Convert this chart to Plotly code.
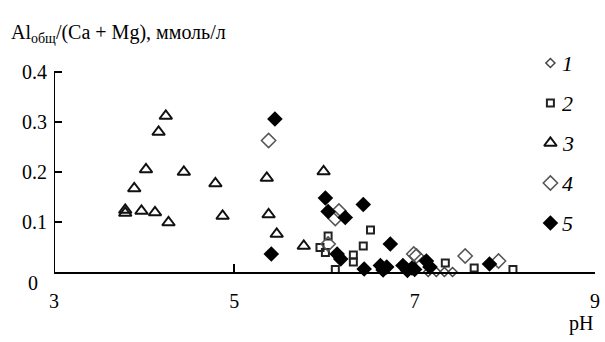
import plotly.graph_objects as go

# Series data (pH, Al/(Ca+Mg))
s1_ph = [7.15, 7.24, 7.33, 7.42]
s1_y = [0.0, 0.0, 0.0, 0.0]

s2_ph = [5.95, 6.01, 6.04, 6.12, 6.32, 6.32, 6.43, 6.51, 7.34, 7.66, 8.09]
s2_y = [0.049, 0.039, 0.072, 0.005, 0.034, 0.020, 0.052, 0.084, 0.018, 0.008, 0.005]

s3_ph = [3.79, 3.79, 3.89, 3.97, 4.02, 4.12, 4.16, 4.24, 4.27, 4.44, 4.79, 4.87,
         5.36, 5.38, 5.47, 5.77, 5.99]
s3_y = [0.124, 0.118, 0.167, 0.122, 0.205, 0.119, 0.280, 0.312, 0.099, 0.200, 0.177, 0.112,
        0.188, 0.115, 0.076, 0.052, 0.201]

s4_ph = [5.38, 6.04, 6.12, 6.16, 6.99, 7.02, 7.56, 7.93]
s4_y = [0.263, 0.056, 0.107, 0.122, 0.036, 0.032, 0.032, 0.022]

s5_ph = [5.41, 5.45, 6.01, 6.04, 6.14, 6.18, 6.23, 6.43, 6.44, 6.62, 6.65, 6.69, 6.73,
         6.87, 6.92, 6.97, 7.00, 7.13, 7.17, 7.83]
s5_y = [0.036, 0.306, 0.148, 0.121, 0.036, 0.026, 0.109, 0.135, 0.006, 0.013, 0.004, 0.010,
        0.056, 0.013, 0.003, 0.008, 0.005, 0.022, 0.010, 0.016]

series_names = ["1", "2", "3", "4", "5"]
x_ticks = [3, 5, 7, 9]
y_ticks = [0, 0.1, 0.2, 0.3, 0.4]
y_ticktext = ["", "0.1", "0.2", "0.3", "0.4"]

FONT = "Liberation Serif"

markers = [
    dict(symbol="diamond-open", size=7, color="#444", line=dict(width=1.5, color="#444")),
    dict(symbol="square-open", size=7, color="#222", line=dict(width=2, color="#222")),
    dict(symbol="triangle-up-open", size=11, color="#111", line=dict(width=2, color="#111")),
    dict(symbol="diamond-open", size=11, color="#555", line=dict(width=1.5, color="#555")),
    dict(symbol="diamond", size=12, color="#000", line=dict(width=0)),
]
data_x = [s1_ph, s2_ph, s3_ph, s4_ph, s5_ph]
data_y = [s1_y, s2_y, s3_y, s4_y, s5_y]

# layout geometry (pixels)
W, H = 605, 342
L, R, T, B = 54, 5, 40, 70
PW = W - L - R
PH = H - T - B
X0, X1 = 3, 9
Y0_PX, Y1_PX = 272, 72  # pixel rows of y = 0 and y = 0.4
Y_PER_PX = 0.4 / (Y0_PX - Y1_PX)
Y_TOP = 0.4 + (Y1_PX - T) * Y_PER_PX  # y value at top of plot area
X_PER_PX = (X1 - X0) / PW


def py_paper(py):
    return (H - B - py) / PH


def px_paper(px):
    return (px - L) / PW


fig = go.Figure()
for name, xs, ys, mk in zip(series_names, data_x, data_y, markers):
    fig.add_trace(go.Scatter(x=xs, y=ys, mode="markers", name=name,
                             marker=mk, cliponaxis=False, showlegend=False))

# Manual legend keys (positions converted from pixel layout)
leg_px = 555
leg_py0 = 63
leg_step = 40
for i, (name, mk) in enumerate(zip(series_names, markers)):
    lx = X0 + (leg_px - L) * X_PER_PX
    ly = (Y0_PX - (leg_py0 + i * leg_step)) * Y_PER_PX
    fig.add_trace(go.Scatter(x=[lx], y=[ly], mode="markers", marker=mk,
                             cliponaxis=False, showlegend=False, hoverinfo="skip"))

annotations = [
    dict(text="Al<sub>общ</sub>/(Ca + Mg), ммоль/л", xref="paper", yref="paper",
         x=px_paper(9), y=py_paper(33), xanchor="left", yanchor="middle", showarrow=False,
         font=dict(family=FONT, size=20)),
    dict(text="pH", xref="paper", yref="paper", x=1.0, y=py_paper(323),
         xanchor="right", yanchor="middle", showarrow=False, font=dict(family=FONT, size=20)),
    dict(text="0", xref="paper", yref="y", x=0, y=0, xanchor="right", yanchor="middle",
         xshift=-14, yshift=-11, showarrow=False, font=dict(family=FONT, size=20)),
]
for i, name in enumerate(series_names):
    annotations.append(dict(text="<i>" + name + "</i>", xref="paper", yref="paper",
                            x=px_paper(leg_px + 10), y=py_paper(leg_py0 + i * leg_step),
                            xanchor="left", yanchor="middle", showarrow=False,
                            font=dict(family=FONT, size=22)))

fig.update_layout(
    width=W, height=H,
    margin=dict(l=L, r=R, t=T, b=B),
    paper_bgcolor="white", plot_bgcolor="white",
    font=dict(family=FONT, size=20, color="black"),
    showlegend=False,
    xaxis=dict(range=[X0, X1], tickvals=x_ticks, ticks="inside", ticklen=8, tickwidth=2,
               tickcolor="black", showline=True, linecolor="black", linewidth=2,
               showgrid=False, zeroline=False, ticklabelstandoff=10,
               tickfont=dict(family=FONT, size=20)),
    yaxis=dict(range=[0, Y_TOP], tickvals=y_ticks,
               ticktext=y_ticktext, ticks="inside",
               ticklen=8, tickwidth=2, tickcolor="black", showline=False,
               showgrid=False, zeroline=False, ticklabelstandoff=6,
               tickfont=dict(family=FONT, size=20)),
    shapes=[dict(type="line", xref="x", yref="y", x0=X0, x1=X0, y0=0, y1=0.4,
                 line=dict(color="black", width=2), layer="above")],
    annotations=annotations,
)

fig.write_html("out.html")
